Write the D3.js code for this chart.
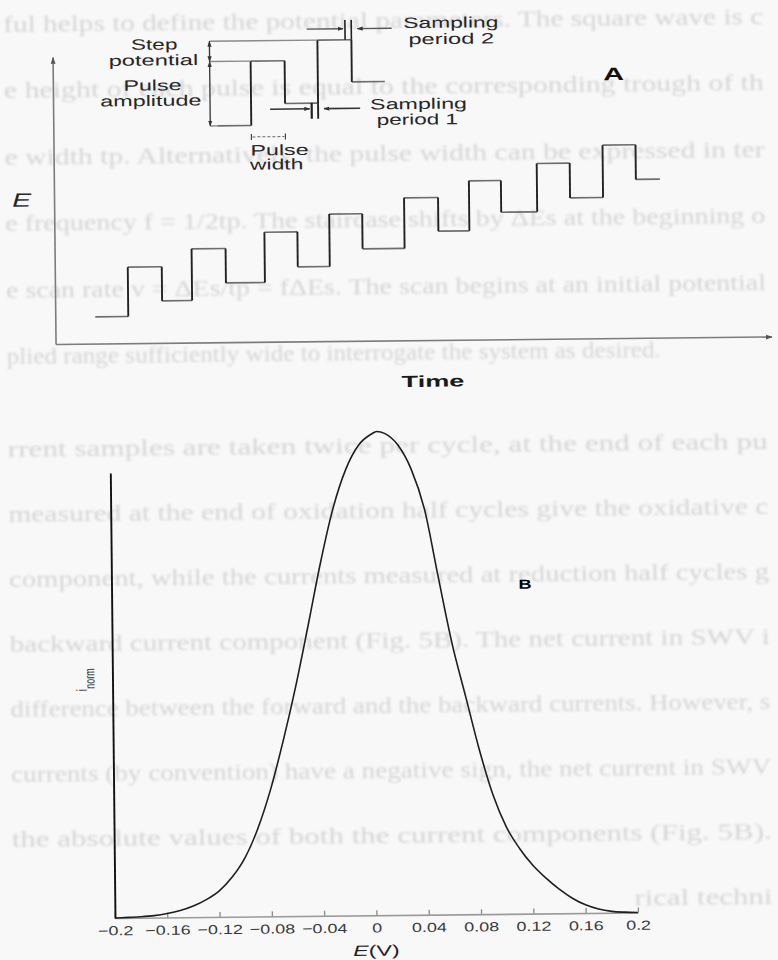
<!DOCTYPE html>
<html>
<head>
<meta charset="utf-8">
<script src="https://cdn.jsdelivr.net/npm/d3@7"></script>
<style>
  html, body { margin: 0; padding: 0; background: #f8f8f8; }
  svg { display: block; }
</style>
</head>
<body>
<svg id="fig" width="778" height="960"></svg>
<script>
// ---------------- data ----------------
// Panel A: square-wave staircase. Edge times and levels in arbitrary units.
const waveTimes  = [40, 73, 107, 137, 171, 210, 243, 275, 308, 350, 384, 415, 447, 483, 516, 549, 582, 606];
const waveLevels = [26.7, 76.1, 42.0, 93.7, 59.3, 109.6, 74.6, 127.0, 91.9, 142.5, 108.8, 158.8, 127.1, 175.5, 140.7, 193.1, 158.5];

// Panel A inset: one enlarged cycle with its parameters
const insetTimes  = [164, 198, 232, 265, 299, 332];
const insetLevels = [216.4, 280.8, 238.1, 301.1, 259.0];
const bracketTime = 157;          // time of the step / amplitude bracket
const pulseWidthLevel = 205;      // level of the pulse-width marker
const sampling1 = { arrowIn: 217, arrowOut: 307, bar: 258.6, level: 232.5, low: 222.5, high: 238.5 };
const sampling2 = { arrowIn: 254.4, arrowOut: 339.4, bar: 292.7, level: 312.2, low: 301.1, high: 321 };

// Panel B: normalised net current vs potential
const potentials = [-0.20, -0.19, -0.18, -0.17, -0.16, -0.15, -0.14, -0.13, -0.12, -0.11,
                    -0.10, -0.09, -0.08, -0.07, -0.06, -0.05, -0.04, -0.03, -0.02, -0.01,
                     0.00, 0.004, 0.01, 0.02, 0.03, 0.04, 0.05, 0.06, 0.07, 0.08, 0.09,
                     0.10, 0.11, 0.12, 0.13, 0.14, 0.15, 0.16, 0.17, 0.18, 0.19, 0.20];
const currents   = [0.000, 0.001, 0.002, 0.004, 0.008, 0.014, 0.023, 0.036, 0.054, 0.082,
                    0.122, 0.182, 0.262, 0.362, 0.474, 0.600, 0.730, 0.842, 0.922, 0.972,
                    0.995, 1.000, 0.996, 0.972, 0.922, 0.838, 0.697, 0.560, 0.450, 0.340, 0.247,
                    0.180, 0.135, 0.100, 0.073, 0.050, 0.031, 0.017, 0.008, 0.003, 0.001, 0.000];
const eTicks      = [-0.2, -0.16, -0.12, -0.08, -0.04, 0, 0.04, 0.08, 0.12, 0.16, 0.2];
const eTickLabels = ["\u22120.2", "\u22120.16", "\u22120.12", "\u22120.08", "\u22120.04", "0",
                     "0.04", "0.08", "0.12", "0.16", "0.2"];
const yAxisTop = 0.92;

// Body text of the page the figure sits on
const pageLines = [
  "ful helps to define the potential parameters. The square wave is c",
  "e height of each pulse is equal to the corresponding trough of th",
  "e width tp. Alternatively, the pulse width can be expressed in ter",
  "e frequency f = 1/2tp. The staircase shifts by \u0394Es at the beginning o",
  "e scan rate v = \u0394Es/tp = f\u0394Es. The scan begins at an initial potential",
  "plied range sufficiently wide to interrogate the system as desired.",
  "rrent samples are taken twice per cycle, at the end of each pu",
  "measured at the end of oxidation half cycles give the oxidative c",
  "component, while the currents measured at reduction half cycles g",
  "backward current component (Fig. 5B). The net current in SWV i",
  "difference between the forward and the backward currents. However, s",
  "currents (by convention) have a negative sign, the net current in SWV",
  "the absolute values of both the current components (Fig. 5B).",
  "rical techni"
];

// ---------------- drawing ----------------
const W = 778, H = 960;
const FIG_FONT = '"Liberation Sans", Arial, Helvetica, sans-serif';
const PAGE_FONT = '"Liberation Serif", "Times New Roman", serif';

const svg = d3.select("#fig");
const defs = svg.append("defs");
defs.append("filter").attr("id", "soft")
  .attr("x", "-5%").attr("y", "-5%").attr("width", "110%").attr("height", "110%")
  .append("feGaussianBlur").attr("stdDeviation", 1.0);

function arrowMarker(id, size, color) {
  defs.append("marker")
    .attr("id", id)
    .attr("viewBox", "0 0 10 10")
    .attr("refX", 9).attr("refY", 5)
    .attr("markerWidth", size).attr("markerHeight", size)
    .attr("markerUnits", "userSpaceOnUse")
    .attr("orient", "auto-start-reverse")
    .append("path").attr("d", "M0,1.5 L10,5 L0,8.5 Z").attr("fill", color);
}
arrowMarker("axArrow", 7, "#555");
arrowMarker("annArrow", 6, "#333");

svg.append("rect").attr("width", W).attr("height", H).attr("fill", "#f8f8f8");

// The printed page is slightly skewed; everything sits in one rotated group
const root = svg.append("g").attr("transform", "rotate(-0.6 389 480)");

// Widen glyphs horizontally by factor k around an anchor
function widen(sel, k, anchor) {
  sel.each(function () {
    const t = d3.select(this);
    const w = this.getComputedTextLength();
    const target = w * k;
    const x = +t.attr("x") || 0;
    let x0 = x;
    if (anchor === "middle") x0 = x - target / 2;
    else if (anchor === "end") x0 = x - target;
    t.attr("text-anchor", "start").attr("x", x0)
     .attr("textLength", target).attr("lengthAdjust", "spacingAndGlyphs");
  });
  return sel;
}

// ---- page text behind the figure ----
const page = root.append("g")
  .attr("filter", "url(#soft)")
  .attr("fill", "#d5d5d5")
  .style("font-family", PAGE_FONT)
  .style("font-size", "24px");
pageLines.forEach((s, i) => {
  const y = i < 6 ? 28 + i * 66.4 : 453 + (i - 6) * 65;
  let x0 = 8, x1 = 768;
  if (i === 5) x1 = 662;
  if (i === pageLines.length - 1) x0 = 630;
  page.append("text").attr("x", x0).attr("y", y).text(s)
    .attr("textLength", x1 - x0).attr("lengthAdjust", "spacingAndGlyphs");
});

// ================= Panel A =================
const gA = root.append("g");
const tA = d3.scaleLinear().domain([0, 716]).range([57, 773]);
const eA = d3.scaleLinear().domain([0, 287]).range([340.5, 53.5]);

gA.append("g")
  .attr("transform", `translate(0,${eA(0)})`)
  .call(d3.axisBottom(tA).tickValues([]).tickSizeOuter(0))
  .call(g => g.select(".domain").attr("stroke", "#7c7c7c").attr("stroke-width", 1.6)
    .attr("marker-end", "url(#axArrow)"));
gA.append("g")
  .attr("transform", `translate(${tA(0)},0)`)
  .call(d3.axisLeft(eA).tickValues([]).tickSizeOuter(0))
  .call(g => g.select(".domain").attr("stroke", "#7c7c7c").attr("stroke-width", 1.6)
    .attr("marker-end", "url(#axArrow)"));

function drawSteps(g, times, levels) {
  const hs = levels.map((v, i) => ({ t1: times[i], t2: times[i + 1], v }));
  const vs = levels.slice(1).map((v, i) => ({ t: times[i + 1], v1: levels[i], v2: v }));
  g.append("g").selectAll("line").data(hs).join("line")
    .attr("x1", d => tA(d.t1)).attr("x2", d => tA(d.t2))
    .attr("y1", d => eA(d.v)).attr("y2", d => eA(d.v))
    .attr("stroke", "#6e6e6e").attr("stroke-width", 1.6);
  g.append("g").selectAll("line").data(vs).join("line")
    .attr("x1", d => tA(d.t)).attr("x2", d => tA(d.t))
    .attr("y1", d => eA(d.v1)).attr("y2", d => eA(d.v2))
    .attr("stroke", "#222").attr("stroke-width", 1.9);
}
drawSteps(gA, waveTimes, waveLevels);

// ---- inset cycle ----
const gI = gA.append("g");
drawSteps(gI, insetTimes, insetLevels);

function seg(g, t1, v1, t2, v2, color, width) {
  return g.append("line")
    .attr("x1", tA(t1)).attr("y1", eA(v1)).attr("x2", tA(t2)).attr("y2", eA(v2))
    .attr("stroke", color).attr("stroke-width", width);
}
// extension lines to the bracket
seg(gI, bracketTime, insetLevels[3], insetTimes[3], insetLevels[3], "#8a8a8a", 1.4);
seg(gI, bracketTime, insetLevels[1], insetTimes[1], insetLevels[1], "#8a8a8a", 1.4);
seg(gI, bracketTime, insetLevels[0], insetTimes[0], insetLevels[0], "#8a8a8a", 1.4);
// step potential and pulse amplitude brackets
seg(gI, bracketTime, insetLevels[1], bracketTime, insetLevels[3], "#333", 1.3)
  .attr("marker-start", "url(#annArrow)").attr("marker-end", "url(#annArrow)");
seg(gI, bracketTime, insetLevels[0], bracketTime, insetLevels[1], "#333", 1.3)
  .attr("marker-start", "url(#annArrow)").attr("marker-end", "url(#annArrow)");
// pulse width marker
seg(gI, insetTimes[1], pulseWidthLevel - 3, insetTimes[1], pulseWidthLevel + 3, "#444", 1.2);
seg(gI, insetTimes[2], pulseWidthLevel - 3, insetTimes[2], pulseWidthLevel + 3, "#444", 1.2);
seg(gI, insetTimes[1] + 1, pulseWidthLevel, insetTimes[2] - 1, pulseWidthLevel, "#666", 1)
  .attr("stroke-dasharray", "3,2");
// sampling period 1 (end of the low half cycle)
seg(gI, insetTimes[3], insetLevels[2], insetTimes[3], sampling1.low, "#222", 1.9);
seg(gI, sampling1.bar, sampling1.low, sampling1.bar, sampling1.high, "#222", 2.2);
seg(gI, sampling1.arrowIn, sampling1.level, sampling1.bar - 2, sampling1.level, "#333", 1.6)
  .attr("marker-end", "url(#annArrow)");
seg(gI, sampling1.arrowOut, sampling1.level, insetTimes[3] + 6, sampling1.level, "#333", 1.6)
  .attr("marker-end", "url(#annArrow)");
// sampling period 2 (end of the high half cycle)
seg(gI, insetTimes[4], insetLevels[3], insetTimes[4], sampling2.high, "#222", 1.6);
seg(gI, sampling2.bar, sampling2.low, sampling2.bar, sampling2.high, "#222", 1.6);
seg(gI, sampling2.arrowIn, sampling2.level, sampling2.bar - 2, sampling2.level, "#555", 1.3)
  .attr("marker-end", "url(#annArrow)");
seg(gI, sampling2.arrowOut, sampling2.level, insetTimes[4] + 6, sampling2.level, "#555", 1.3)
  .attr("marker-end", "url(#annArrow)");

// ---- panel A labels ----
function label(g, txt, x, y, size, k, anchor, extra) {
  const t = g.append("text").attr("x", x).attr("y", y)
    .style("font-family", FIG_FONT).style("font-size", size + "px")
    .attr("fill", "#262626").text(txt);
  if (extra) extra(t);
  widen(t, k, anchor);
  return t;
}
label(gA, "Step", 158.8, 47.2, 15, 1.5, "middle");
label(gA, "potential", 157.8, 63, 15, 1.58, "middle");
label(gA, "Pulse", 156.6, 88, 15, 1.55, "middle");
label(gA, "amplitude", 154.8, 103.5, 15, 1.56, "middle");
label(gA, "Pulse", 283, 154, 15, 1.55, "middle");
label(gA, "width", 280, 168.3, 15, 1.52, "middle");
label(gA, "Sampling", 408, 28.3, 15, 1.52, "start");
label(gA, "period 2", 413, 44.6, 15, 1.58, "start");
label(gA, "Sampling", 374, 109.3, 15, 1.55, "start");
label(gA, "period 1", 380.4, 124.8, 15, 1.5, "start");
label(gA, "A", 617.8, 82.4, 18, 1.6, "middle", t => t.style("font-weight", "bold").attr("fill", "#111"));
label(gA, "E", 24.6, 202.8, 19, 1.5, "middle", t => t.style("font-style", "italic"));
label(gA, "Time", 434, 387.2, 16, 1.7, "middle", t => t.style("font-weight", "bold").attr("fill", "#1a1a1a"));

// ================= Panel B =================
const gB = root.append("g");
const xB = d3.scaleLinear().domain([-0.2, 0.2]).range([110.4, 633.4]);
const yB = d3.scaleLinear().domain([0, 1]).range([915.1, 431.4]);

const xAxisB = gB.append("g")
  .attr("transform", `translate(0,${yB(0)})`)
  .call(d3.axisBottom(xB).tickValues(eTicks).tickSizeInner(-5).tickSizeOuter(0).tickPadding(8)
    .tickFormat((d, i) => eTickLabels[i]));
xAxisB.select(".domain").attr("stroke", "#9a9a9a").attr("stroke-width", 1.6);
xAxisB.selectAll(".tick line").attr("stroke", "#8a8a8a").attr("stroke-width", 1.3);
xAxisB.selectAll(".tick text")
  .style("font-family", FIG_FONT).style("font-size", "13px").attr("fill", "#3a3a3a");
widen(xAxisB.selectAll(".tick text"), 1.38, "middle");

const yAxisScale = d3.scaleLinear().domain([0, yAxisTop]).range([yB(0), yB(yAxisTop)]);
gB.append("g")
  .attr("transform", `translate(${xB(-0.2)},0)`)
  .call(d3.axisLeft(yAxisScale).tickValues([]).tickSizeOuter(0))
  .call(g => g.select(".domain").attr("stroke", "#111").attr("stroke-width", 1.9));

const pts = potentials.map((e, i) => [e, currents[i]]);
gB.append("path")
  .datum(pts)
  .attr("fill", "none")
  .attr("stroke", "#1e1e1e")
  .attr("stroke-width", 1.6)
  .attr("d", d3.line().x(d => xB(d[0])).y(d => yB(d[1])).curve(d3.curveMonotoneX));

label(gB, "B", 523.9, 590, 13, 1.4, "middle", t => t.style("font-weight", "bold").attr("fill", "#000"));

// E(V) axis title
const ev = gB.append("text").attr("x", 371.6).attr("y", 955.5)
  .style("font-family", FIG_FONT).style("font-size", "15px").attr("fill", "#222");
ev.append("tspan").style("font-style", "italic").text("E");
ev.append("tspan").text("(V)");
widen(ev, 1.55, "middle");

// i_norm axis title (vertical)
const iy = gB.append("text")
  .attr("transform", "translate(84.8,688) scale(1.5,1) rotate(-90)")
  .style("font-family", FIG_FONT).style("font-size", "10px").attr("fill", "#333");
iy.append("tspan").text("i");
iy.append("tspan").attr("dy", 5).style("font-size", "9px").text("norm");
</script>
</body>
</html>
